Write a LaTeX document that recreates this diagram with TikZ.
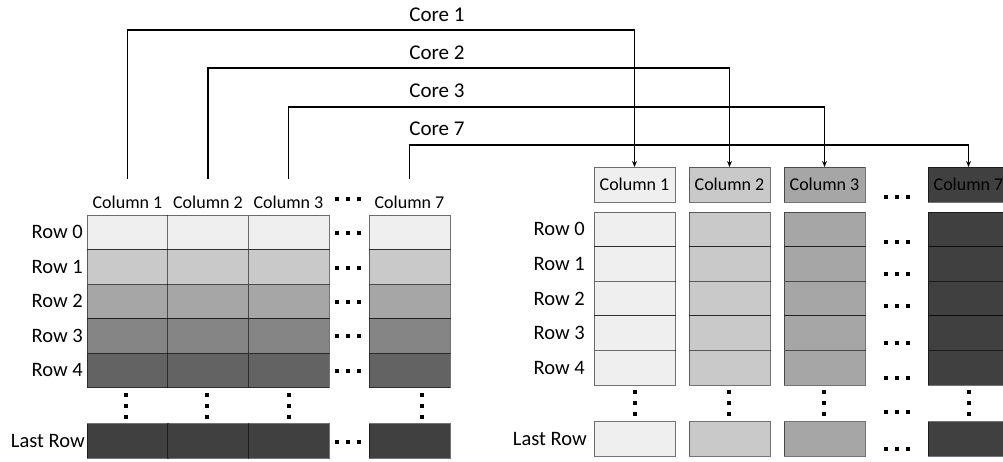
\documentclass[tikz,border=0pt]{standalone}
\usepackage{fontspec}
\setmainfont{Carlito}
\usetikzlibrary{arrows.meta}
\definecolor{c0}{HTML}{EFEFEF}
\definecolor{c1}{HTML}{C9C9C9}
\definecolor{c2}{HTML}{A6A6A6}
\definecolor{c3}{HTML}{858585}
\definecolor{c4}{HTML}{636363}
\definecolor{c5}{HTML}{404040}
\begin{document}
\begin{tikzpicture}[x=1pt,y=-1pt,
  cell/.style={draw=black, draw opacity=0.55, line width=0.8pt, minimum width=81pt,
    minimum height=34.5pt, inner sep=0pt, outer sep=0pt},
  rowlab/.style={anchor=east, inner sep=0pt, font=\fontsize{20.5}{24}\selectfont},
  collab/.style={inner sep=0pt, font=\fontsize{18}{21}\selectfont},
  corelab/.style={inner sep=0pt, font=\fontsize{21}{25}\selectfont},
  link/.style={line width=1.2pt, -{Stealth[length=6pt,width=5pt]}},
  hdots/.pic={\foreach \k in {-11,0,11}{\fill (\k-2,-2) rectangle (\k+2,2);}},
  vdots/.pic={\foreach \k in {-11,0,11}{\fill (-2,\k-2) rectangle (2,\k+2);}}]
\useasboundingbox (0,0) rectangle (1003,461);

% ---------- row-major layout (left) ----------
\foreach \c/\x in {1/127.5,2/208,3/288.5,7/409.5}{
  \foreach \r/\f in {0/c0,1/c1,2/c2,3/c3,4/c4}{
    \node[cell, fill=\f] (L\c-\r) at (\x,232.25+34.5*\r) {};
  }
  \node[cell, fill=c5] (L\c-last) at (\x,441) {};
  \node[collab] (LC\c) at (\x,202) {Column \c};
}
\foreach \r in {0,...,4}{
  \node[rowlab] (LR\r) at (83,232.25+34.5*\r) {Row \r};
}
\node[rowlab] (LRlast) at (85,441) {Last Row};

% ellipses of the left layout
\pic at (348,199) {hdots};
\foreach \y in {233,267.5,302,336,371,442}{\pic at (348,\y) {hdots};}
\foreach \x in {126,207,289,422}{\pic at (\x,405.5) {vdots};}

% ---------- column-major layout (right) ----------
\foreach \c/\x/\f in {1/634.5/c0,2/729.5/c1,3/824.5/c2,7/968.5/c5}{
  \node[cell, fill=\f, minimum height=35pt, font=\fontsize{18}{21}\selectfont]
    (RH\c) at (\x,184.5) {Column \c};
  \foreach \r in {0,...,4}{
    \node[cell, fill=\f, minimum height=34.6pt] (R\c-\r) at (\x,229.3+34.6*\r) {};
  }
  \node[cell, fill=\f] (R\c-last) at (\x,439) {};
}
\foreach \r in {0,...,4}{
  \node[rowlab] (RR\r) at (585,229.3+34.6*\r) {Row \r};
}
\node[rowlab] (RRlast) at (587,439) {Last Row};

% ellipses of the right layout
\foreach \y in {197,242,274,306,343,378,412,449}{\pic at (897,\y) {hdots};}
\foreach \x in {635,729,824,969}{\pic at (\x,402.5) {vdots};}

% ---------- core assignments ----------
\coordinate (bus1) at (0,30);
\coordinate (bus2) at (0,68);
\coordinate (bus3) at (0,107);
\coordinate (bus7) at (0,145);
\node[corelab] (core1) at (437,15) {Core 1};
\node[corelab] (core2) at (437,53) {Core 2};
\node[corelab] (core3) at (437,91) {Core 3};
\node[corelab] (core7) at (437,129) {Core 7};
\foreach \c in {1,2,3,7}{
  \draw[link, shorten <=16pt] (LC\c.north) |- (RH\c.north |- bus\c) -- (RH\c.north);
}
\end{tikzpicture}
\end{document}
